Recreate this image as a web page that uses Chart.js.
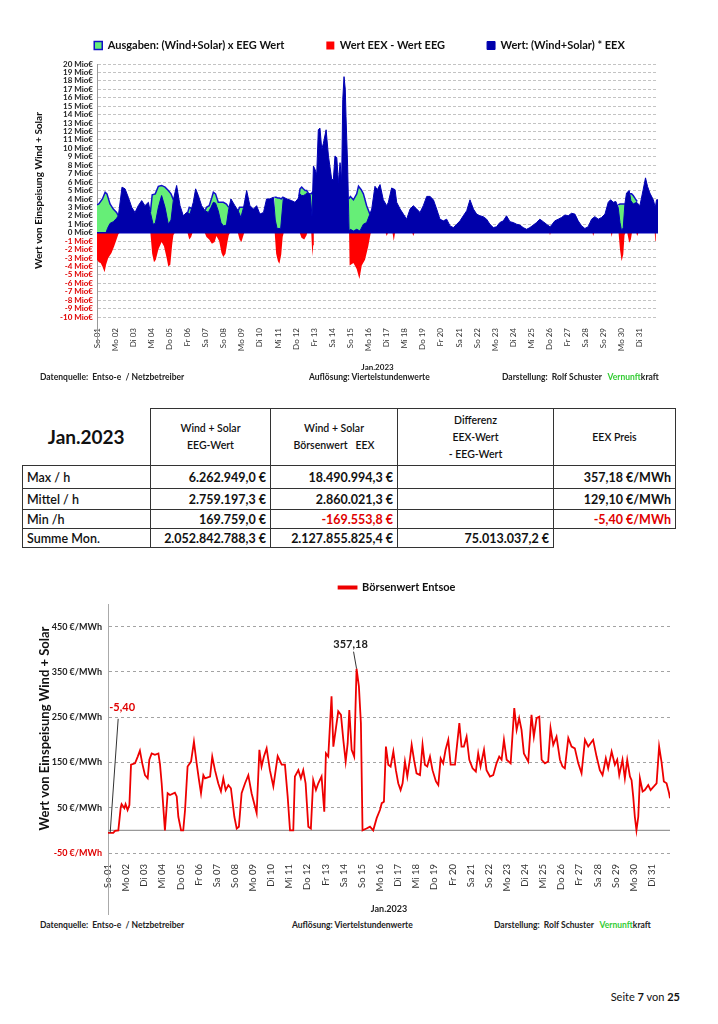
<!DOCTYPE html>
<html>
<head>
<meta charset="utf-8">
<script src="https://cdn.jsdelivr.net/npm/chart.js@4.4.1/dist/chart.umd.min.js"></script>
<style>
body { margin: 0; background: #fff; font-family: Lato, "Open Sans", sans-serif; }
#page { position: relative; width: 718px; height: 1024px; overflow: hidden; background: #fff; }
canvas { position: absolute; }
.foot { position: absolute; font-size: 8.5px; font-weight: bold; color: #222; white-space: nowrap; line-height: 10px; }
.green { color: #33cc33; }
#tbl { position: absolute; left: 22px; top: 408px; border-collapse: collapse; table-layout: fixed; width: 653px; color: #111; }
#tbl td { border: 1px solid #333; padding: 0 4px; font-size: 12px; overflow: hidden; white-space: nowrap; }
#tbl tr.hd td { height: 56px; text-align: center; line-height: 17px; font-size: 10.5px; font-weight: 600; }
#tbl tr.r1 td { height: 22px; }
#tbl tr.r2 td { height: 20px; }
#tbl tr.r3 td { height: 18px; }
#tbl tr.r4 td { height: 18px; }
#tbl tr.hd td.corner { border-top: none; border-left: none; font-size: 19px; font-weight: bold; }
#tbl td.lb { font-weight: 600; text-align: left; font-size: 12.5px; }
#tbl td.n { font-weight: bold; text-align: right; font-size: 12.5px; }
#tbl td.red { color: #e00000; }
#tbl td.empty { border: none; }
#pg { position: absolute; right: 38px; top: 990px; font-size: 11px; color: #111; }
</style>
</head>
<body>
<div id="page">
  <canvas id="top" width="680" height="377" style="left:20px; top:-2px;"></canvas>
  <div class="foot" style="left:40px; top:372px;">Datenquelle:&nbsp; Entso-e&nbsp; / Netzbetreiber</div>
  <div class="foot" style="left:309px; top:372px;">Auflösung: Viertelstundenwerte</div>
  <div class="foot" style="left:502px; top:372px;">Darstellung:&nbsp; Rolf Schuster&nbsp;&nbsp; <span class="green">Vernunft</span>kraft</div>

  <table id="tbl">
    <colgroup><col style="width:128px"><col style="width:120px"><col style="width:127px"><col style="width:156px"><col style="width:122px"></colgroup>
    <tr class="hd"><td class="corner">Jan.2023</td><td>Wind + Solar<br>EEG-Wert</td><td>Wind + Solar<br>Börsenwert&nbsp;&nbsp; EEX</td><td>Differenz<br>EEX-Wert<br>- EEG-Wert</td><td>EEX Preis</td></tr>
    <tr class="r1"><td class="lb">Max / h</td><td class="n">6.262.949,0 €</td><td class="n">18.490.994,3 €</td><td></td><td class="n">357,18 €/MWh</td></tr>
    <tr class="r2"><td class="lb">Mittel / h</td><td class="n">2.759.197,3 €</td><td class="n">2.860.021,3 €</td><td></td><td class="n">129,10 €/MWh</td></tr>
    <tr class="r3"><td class="lb">Min /h</td><td class="n">169.759,0 €</td><td class="n red">-169.553,8 €</td><td></td><td class="n red">-5,40 €/MWh</td></tr>
    <tr class="r4"><td class="lb">Summe Mon.</td><td class="n">2.052.842.788,3 €</td><td class="n">2.127.855.825,4 €</td><td class="n">75.013.037,2 €</td><td class="empty"></td></tr>
  </table>

  <canvas id="bottom" width="680" height="345" style="left:20px; top:572px;"></canvas>
  <div class="foot" style="left:40px; top:920px;">Datenquelle:&nbsp; Entso-e&nbsp; / Netzbetreiber</div>
  <div class="foot" style="left:292px; top:920px;">Auflösung: Viertelstundenwerte</div>
  <div class="foot" style="left:494px; top:920px;">Darstellung:&nbsp; Rolf Schuster&nbsp;&nbsp; <span class="green">Vernunft</span>kraft</div>

  <div id="pg">Seite <b>7</b> von <b>25</b></div>
</div>

<script>
// x positions are days since 01.01.2023 00:00
var dayLabels = ['So 01','Mo 02','Di 03','Mi 04','Do 05','Fr 06','Sa 07','So 08','Mo 09','Di 10',
    'Mi 11','Do 12','Fr 13','Sa 14','So 15','Mo 16','Di 17','Mi 18','Do 19','Fr 20',
    'Sa 21','So 22','Mo 23','Di 24','Mi 25','Do 26','Fr 27','Sa 28','So 29','Mo 30','Di 31'];

// --- top chart, Mio € ---
var blueT = [0.00,0.50,0.58,0.72,0.90,1.08,1.18,1.30,1.38,1.55,
    1.73,1.92,2.10,2.28,2.47,2.65,2.84,2.95,3.10,3.22,
    3.39,3.57,3.76,3.94,4.09,4.22,4.40,4.59,4.77,4.95,
    5.14,5.32,5.45,5.60,5.78,5.97,6.15,6.30,6.43,6.55,
    6.70,6.85,6.98,7.15,7.28,7.40,7.62,7.80,7.95,8.10,
    8.27,8.45,8.65,8.82,9.00,9.20,9.37,9.55,9.75,9.85,
    9.95,10.15,10.30,10.50,10.75,10.94,11.10,11.22,11.31,11.40,
    11.50,11.59,11.78,11.88,11.96,12.05,12.14,12.23,12.32,12.42,
    12.51,12.66,12.79,12.97,13.06,13.15,13.25,13.34,13.43,13.52,
    13.58,13.65,13.72,13.76,13.85,13.93,14.00,14.17,14.35,14.53,
    14.72,14.90,15.08,15.18,15.36,15.49,15.64,15.82,16.01,16.10,
    16.28,16.47,16.56,16.75,16.93,17.11,17.30,17.48,17.67,17.85,
    18.03,18.22,18.40,18.59,18.77,18.95,19.14,19.32,19.51,19.69,
    19.88,20.06,20.24,20.43,20.61,20.80,20.98,21.16,21.34,21.53,
    21.71,21.90,22.08,22.26,22.45,22.63,22.82,23.00,23.19,23.37,
    23.55,23.74,23.92,24.11,24.29,24.47,24.66,24.84,25.03,25.12,
    25.30,25.49,25.67,25.86,26.04,26.22,26.41,26.59,26.78,26.96,
    27.14,27.33,27.51,27.70,27.88,28.07,28.25,28.38,28.53,28.67,
    28.80,28.90,28.99,29.08,29.17,29.26,29.41,29.50,29.63,29.82,
    30.00,30.18,30.31,30.42,30.55,30.74,30.85,30.92,31.00];
var blueV = [0.0,0.0,0.5,1.1,1.3,1.7,2.0,4.0,5.4,5.2,
    4.2,3.0,2.4,3.2,3.8,3.2,3.6,2.4,1.0,1.1,
    3.0,4.4,3.0,1.0,1.5,3.9,5.6,3.2,2.0,2.4,
    2.2,3.6,5.2,4.4,3.2,2.6,2.4,3.0,3.6,3.5,
    2.6,1.2,0.8,0.9,2.8,4.0,3.2,2.6,1.8,3.0,
    5.0,3.2,2.8,3.2,2.2,2.4,4.0,4.0,4.2,1.5,
    0.5,0.5,4.2,4.0,3.8,3.6,4.0,4.6,4.4,4.4,
    4.5,4.7,4.5,2.0,7.9,7.5,6.9,12.2,12.4,9.9,
    10.6,12.2,9.1,6.3,6.3,9.1,8.9,5.9,8.3,6.3,
    15.8,18.5,17.0,13.8,7.9,0.2,0.4,0.2,0.4,0.2,
    1.0,1.2,2.2,2.8,5.5,5.1,5.7,3.9,3.2,3.6,
    5.3,5.1,3.6,2.8,2.2,1.6,2.8,3.2,2.8,2.4,
    3.2,4.3,4.3,3.9,2.8,1.6,1.4,1.6,0.8,0.6,
    1.0,1.4,2.0,2.6,3.9,2.8,2.2,2.0,1.9,1.6,
    1.0,0.6,0.7,1.2,1.4,2.0,1.3,1.2,1.0,0.9,
    0.6,0.4,0.6,0.9,1.2,1.6,1.3,1.0,0.7,0.9,
    1.4,1.6,1.8,2.1,2.0,2.3,2.2,1.4,0.8,0.5,
    0.7,1.6,1.9,1.6,1.8,2.2,3.6,3.9,3.6,3.7,
    3.0,1.2,0.2,0.6,3.4,4.7,5.0,3.8,3.4,3.6,
    3.2,5.1,6.5,5.5,4.7,3.9,3.0,3.9,3.9];

// EEG value, only where it shows above the EEX area (null = gap)
var greenT = [0.00,0.10,0.30,0.45,0.55,0.72,0.90,1.08,1.18, 1.2,
    2.95,3.05,3.22,3.39,3.57,3.76,3.94,4.09,4.22, 4.3,
    5.00,5.10,5.20,5.28, 5.3,
    5.97,6.05,6.20,6.35,6.43,6.55,6.70,6.85,6.98,7.15,7.28, 7.3,
    7.80,7.88,7.98,8.08,8.12, 8.2,
    9.80,9.90,10.00,10.08,10.18,10.26,10.30, 10.4,
    11.15,11.22,11.31,11.40,11.50,11.59,11.70,11.84,11.90,11.95, 12.0,
    13.92,14.00,14.17,14.35,14.45,14.60,14.72,14.90,15.08, 15.1,
    28.80,28.90,28.99,29.08,29.17, 29.2,
    29.45,29.54,29.63,29.75,29.85];
var greenV = [3.3,3.4,4.0,4.8,4.6,3.4,2.8,2.4,2.0, null,
    2.4,4.5,4.6,5.5,5.6,5.4,5.0,4.6,3.9, null,
    2.3,3.0,2.9,2.7, null,
    2.6,3.0,3.2,4.2,4.8,4.6,3.6,3.6,3.6,3.4,3.0, null,
    2.6,3.0,3.0,3.0,3.1, null,
    4.2,4.2,4.1,4.1,4.0,4.2,4.2, null,
    4.3,5.2,5.4,5.2,5.0,5.0,4.6,4.6,4.8,4.6, null,
    4.0,4.3,3.9,4.6,5.5,5.1,4.6,3.2,2.2, null,
    3.3,3.4,3.4,3.4,3.4, null,
    4.6,4.6,4.4,4.0,3.7];

// EEX - EEG where negative
var redT = [0.00,0.10,0.20,0.30,0.42,0.50,0.62,0.80,0.95,1.08,1.18,1.25,
    2.95,3.05,3.15,3.25,3.39,3.57,3.70,3.85,3.94,4.05,4.15,4.22,4.30,
    5.00,5.10,5.20,5.28,
    5.95,6.05,6.20,6.35,6.50,6.60,6.75,6.88,6.98,7.10,7.20,7.28,7.35,
    7.78,7.88,7.98,8.08,8.14,
    9.82,9.90,10.00,10.08,10.18,10.26,10.32,
    11.20,11.30,11.45,11.58,11.62,11.84,11.90,11.95,11.98,
    13.93,13.96,14.17,14.35,14.50,14.63,14.81,14.99,15.12,15.16,
    15.95,16.01,16.08,16.33,16.40,16.47,17.42,17.48,17.54,
    25.00,25.03,25.07,27.38,27.42,27.47,28.40,28.44,28.48,
    28.82,28.90,28.99,29.08,29.15,29.20,29.30,29.41,29.50,29.56,
    29.80,29.85,29.92,30.82,30.85,30.88,31.00];
var redV = [-3.2,-3.5,-3.6,-4.0,-4.7,-3.8,-3.0,-2.4,-1.6,-0.8,-0.2,0,
    0,-2.5,-3.5,-3.2,-2.0,-1.1,-1.6,-3.0,-4.0,-3.8,-1.5,-0.3,0,
    0,-0.8,-0.5,0,
    0,-0.5,-0.8,-1.3,-1.1,-0.4,-1.0,-2.4,-2.9,-2.5,-1.2,-0.3,0,
    0,-0.8,-1.1,-0.4,0,
    0,-2.5,-3.4,-3.7,-2.6,-0.5,0,
    0,-0.6,-0.8,-0.3,0,0,-2.8,-1.5,0,
    0,-3.9,-3.6,-4.3,-5.5,-3.9,-3.2,-1.6,-0.1,0,
    0,-0.4,0,0,-1.0,0,0,-0.4,0,
    0,-0.3,0,0,-0.4,0,0,-0.5,0,
    0,-2.0,-3.4,-2.6,-0.3,0,0,-1.2,-0.8,0,
    0,-0.4,0,0,-1.0,0,0];

// --- bottom chart, €/MWh ---
var priceT = [0.00,0.29,0.39,0.57,0.70,0.75,0.90,0.97,1.08,1.18,
    1.27,1.49,1.64,1.76,1.89,2.04,2.19,2.28,2.41,2.59,
    2.78,2.87,2.96,3.14,3.29,3.42,3.69,3.79,3.88,4.03,
    4.15,4.25,4.39,4.58,4.74,4.89,5.02,5.13,5.26,5.35,
    5.63,5.75,5.90,6.08,6.23,6.36,6.49,6.64,6.78,6.97,
    7.10,7.22,7.37,7.56,7.74,7.92,8.11,8.20,8.35,8.47,
    8.60,8.75,8.93,9.12,9.36,9.58,9.76,9.91,10.04,10.22,
    10.31,10.50,10.64,10.77,10.90,11.05,11.19,11.32,11.47,11.60,
    11.78,11.93,12.02,12.15,12.33,12.43,12.56,12.70,12.85,12.98,
    13.11,13.22,13.31,13.44,13.58,13.71,13.84,13.95,14.04,14.26,
    14.45,14.63,14.82,15.00,15.10,15.22,15.33,15.46,15.59,15.74,
    15.88,16.01,16.14,16.25,16.38,16.51,16.65,16.75,16.88,17.02,
    17.21,17.35,17.48,17.61,17.76,17.90,18.09,18.22,18.35,18.49,
    18.62,18.77,18.90,19.14,19.38,19.50,19.63,19.78,19.93,20.11,
    20.29,20.42,20.55,20.74,20.88,21.07,21.25,21.43,21.58,21.71,
    21.84,21.99,22.21,22.41,22.54,22.68,22.81,22.94,23.18,23.36,
    23.49,23.64,23.79,23.92,24.10,24.28,24.41,24.56,24.74,24.93,
    25.07,25.20,25.39,25.57,25.75,25.94,26.12,26.31,26.49,26.76,
    26.95,27.13,27.28,27.46,27.59,27.78,27.96,28.09,28.20,28.38,
    28.51,28.64,28.79,28.88,28.97,29.06,29.15,29.25,29.34,29.49,
    29.61,29.80,29.93,30.11,30.26,30.40,30.53,30.66,30.81,30.95,
    31.00];
var priceV = [-5.4,-5.4,-1,0,50,58,49,58,45,56,
    145,148,163,176,148,122,115,156,170,167,
    170,145,104,0,82,78,83,75,30,0,
    0,45,141,152,196,148,111,82,122,115,
    119,163,133,104,86,115,89,100,93,30,
    4,8,82,104,122,82,52,38,178,141,
    163,181,133,97,164,145,145,75,0,0,
    119,133,115,133,104,8,4,111,89,104,
    119,41,170,163,296,185,222,263,255,200,
    152,192,266,178,163,357.18,318,237,0,4,
    8,0,27,45,60,63,185,145,141,174,
    133,104,89,104,152,119,156,189,156,126,
    122,189,145,141,163,133,108,100,159,148,
    178,200,145,145,237,185,185,207,156,137,
    130,170,141,178,133,119,122,148,163,156,
    200,156,148,270,222,248,222,170,152,255,
    207,248,251,156,148,152,226,189,207,156,
    141,137,204,185,181,148,126,200,185,200,
    163,133,122,159,137,174,145,156,122,156,
    115,156,119,111,75,30,0,30,115,86,
    89,100,89,97,104,185,152,108,104,82,
    71];
var priceTicks = [-50, 50, 150, 250, 350, 450];

// labelled extremes of the price curve
var noteT = [13.71, 0.12];
var noteV = [357.18, -5.4];
var noteText = ['357,18', '-5,40'];

Chart.defaults.font.family = 'Lato, "Open Sans", sans-serif';
Chart.defaults.color = '#222';

function pts(ts, vs) {
    return ts.map(function(t, i) { return {x: t, y: vs[i]}; });
}

// make the legend shorter than its label padding would make it, and nudge it sideways
var legendFit = {
    id: 'legendFit',
    beforeUpdate: function(chart, args, opts) {
        var lg = chart.legend;
        if (lg && !lg._patched) {
            var fit = lg.fit;
            lg.fit = function() { fit.call(this); this.height = opts.height; };
            lg._patched = true;
        }
    },
    afterLayout: function(chart, args, opts) {
        var lg = chart.legend;
        if (lg && opts.shift) {
            lg.left += opts.shift;
            lg.right += opts.shift;
        }
    }
};

// zero line and the axis line running down through the day labels
var axisExtras = {
    id: 'axisExtras',
    beforeDatasetsDraw: function(chart, args, o) { if (!o.zeroOnTop) drawZero(chart, o); },
    afterDatasetsDraw: function(chart, args, o) {
        if (o.zeroOnTop) drawZero(chart, o);
        var a = chart.chartArea, ctx = chart.ctx;
        ctx.save();
        ctx.strokeStyle = o.tailColor;
        ctx.lineWidth = 1;
        ctx.beginPath();
        ctx.moveTo(a.left + 0.5, a.bottom);
        ctx.lineTo(a.left + 0.5, a.bottom + o.tail);
        ctx.stroke();
        ctx.restore();
    }
};
function drawZero(chart, o) {
    var a = chart.chartArea, ctx = chart.ctx;
    var y0 = chart.scales.y.getPixelForValue(0);
    ctx.save();
    ctx.strokeStyle = o.zeroColor;
    ctx.lineWidth = o.zeroWidth;
    ctx.beginPath();
    ctx.moveTo(a.left, y0);
    ctx.lineTo(a.right, y0);
    ctx.stroke();
    ctx.restore();
}

var priceNotes = {
    id: 'priceNotes',
    afterDatasetsDraw: function(chart) {
        var ctx = chart.ctx, x = chart.scales.x, y = chart.scales.y;
        ctx.save();
        ctx.font = 'bold 11px Lato, "Open Sans", sans-serif';
        ctx.textAlign = 'center';
        ctx.textBaseline = 'middle';
        ctx.strokeStyle = '#333';
        ctx.lineWidth = 1;
        // max
        var px = x.getPixelForValue(noteT[0]), py = y.getPixelForValue(noteV[0]);
        ctx.beginPath(); ctx.moveTo(px - 3, py - 17); ctx.lineTo(px, py); ctx.stroke();
        ctx.fillStyle = '#222';
        ctx.fillText(noteText[0], px - 6, py - 24);
        // min
        px = x.getPixelForValue(noteT[1]); py = y.getPixelForValue(noteV[1]);
        ctx.beginPath(); ctx.moveTo(px + 8, py - 114); ctx.lineTo(px, py); ctx.stroke();
        ctx.fillStyle = '#e00000';
        ctx.fillText(noteText[1], px + 12, py - 125);
        ctx.restore();
    }
};

function dayAxis(fontSize, titleSize, height) {
    return {
        type: 'linear', min: 0, max: 31,
        afterBuildTicks: function(axis) {
            axis.ticks = dayLabels.map(function(l, i) { return {value: i}; });
        },
        afterFit: function(scale) { scale.height = height; },
        ticks: {
            autoSkip: false, maxRotation: 90, minRotation: 90, padding: 3,
            font: {size: fontSize}, color: '#333',
            callback: function(v) { return dayLabels[v]; }
        },
        grid: {display: false},
        border: {display: false},
        title: {display: true, text: 'Jan.2023', font: {size: titleSize, weight: 'bold'}, color: '#222', padding: {top: 2, bottom: 3}}
    };
}

new Chart(document.getElementById('top'), {
    type: 'line',
    data: {
        datasets: [{
            label: 'Ausgaben: (Wind+Solar) x EEG Wert',
            data: pts(greenT, greenV),
            backgroundColor: '#66ee77',
            borderColor: '#1010c8',
            borderWidth: 1.5,
            fill: 'origin',
            spanGaps: false,
            order: 3
        }, {
            label: 'Wert EEX - Wert EEG',
            data: pts(redT, redV),
            backgroundColor: '#ff0000',
            borderColor: '#ff0000',
            borderWidth: 0,
            fill: 'origin',
            order: 1
        }, {
            label: 'Wert: (Wind+Solar) * EEX',
            data: pts(blueT, blueV),
            backgroundColor: '#0000aa',
            borderColor: '#0000b4',
            borderWidth: 1,
            fill: 'origin',
            order: 2
        }]
    },
    options: {
        responsive: false,
        animation: false,
        layout: {padding: {top: 0, left: 13, right: 42, bottom: 0}},
        elements: {point: {radius: 0}, line: {tension: 0}},
        plugins: {
            legend: {
                labels: {
                    boxWidth: 8, boxHeight: 8, padding: 42, color: '#111', font: {size: 11, weight: 'bold'},
                    sort: function(a, b) { return a.datasetIndex - b.datasetIndex; }
                }
            },
            legendFit: {height: 66, shift: 14},
            tooltip: {enabled: false},
            axisExtras: {zeroOnTop: true, zeroColor: '#0000b4', zeroWidth: 1.5, tailColor: '#999', tail: 28}
        },
        scales: {
            x: dayAxis(8, 8, 58),
            y: {
                min: -10, max: 20,
                afterFit: function(scale) { scale.width = 64; },
                ticks: {
                    stepSize: 1, autoSkip: false, padding: 4,
                    font: {size: 8, weight: 'bold'},
                    color: function(c) { return c.tick.value < 0 ? '#e00000' : '#222'; },
                    callback: function(v) { return v + ' Mio€'; }
                },
                grid: {color: '#b4b4b4', lineWidth: 0.8, drawTicks: false},
                border: {display: true, color: '#999', dash: [3, 2]},
                title: {display: true, text: 'Wert von Einspeisung Wind + Solar', font: {size: 10, weight: 'bold'}, color: '#111', padding: {top: 0, bottom: 4}}
            }
        }
    },
    plugins: [legendFit, axisExtras]
});

new Chart(document.getElementById('bottom'), {
    type: 'line',
    data: {
        datasets: [{
            label: 'Börsenwert Entsoe',
            data: pts(priceT, priceV),
            borderColor: '#ee0000',
            backgroundColor: '#ee0000',
            borderWidth: 1.8,
            fill: false
        }]
    },
    options: {
        responsive: false,
        animation: false,
        layout: {padding: {top: 0, left: 17, right: 30, bottom: 0}},
        elements: {point: {radius: 0}, line: {tension: 0}},
        plugins: {
            legend: {
                fullSize: false,
                labels: {boxWidth: 18, boxHeight: 2, padding: 10, color: '#111', font: {size: 11, weight: 'bold'}}
            },
            legendFit: {height: 32, shift: 8},
            tooltip: {enabled: false},
            axisExtras: {zeroOnTop: false, zeroColor: '#999', zeroWidth: 1.2, tailColor: '#aaa', tail: 62}
        },
        scales: {
            x: dayAxis(9.5, 9, 64),
            y: {
                min: -50, max: 500,
                afterBuildTicks: function(axis) {
                    axis.ticks = priceTicks.map(function(v) { return {value: v}; });
                },
                afterFit: function(scale) { scale.width = 71; },
                ticks: {
                    padding: 6,
                    font: {size: 9, weight: 'bold'},
                    color: function(c) { return c.tick.value < 0 ? '#e00000' : '#222'; },
                    callback: function(v) { return v + ' €/MWh'; }
                },
                grid: {color: '#999', lineWidth: 0.9, drawTicks: false},
                border: {display: true, color: '#aaa', dash: [3, 3]},
                title: {display: true, text: 'Wert von Einspeisung Wind + Solar', font: {size: 13, weight: 'bold'}, color: '#111', padding: {top: 0, bottom: 4}}
            }
        }
    },
    plugins: [legendFit, axisExtras, priceNotes]
});
</script>
</body>
</html>
